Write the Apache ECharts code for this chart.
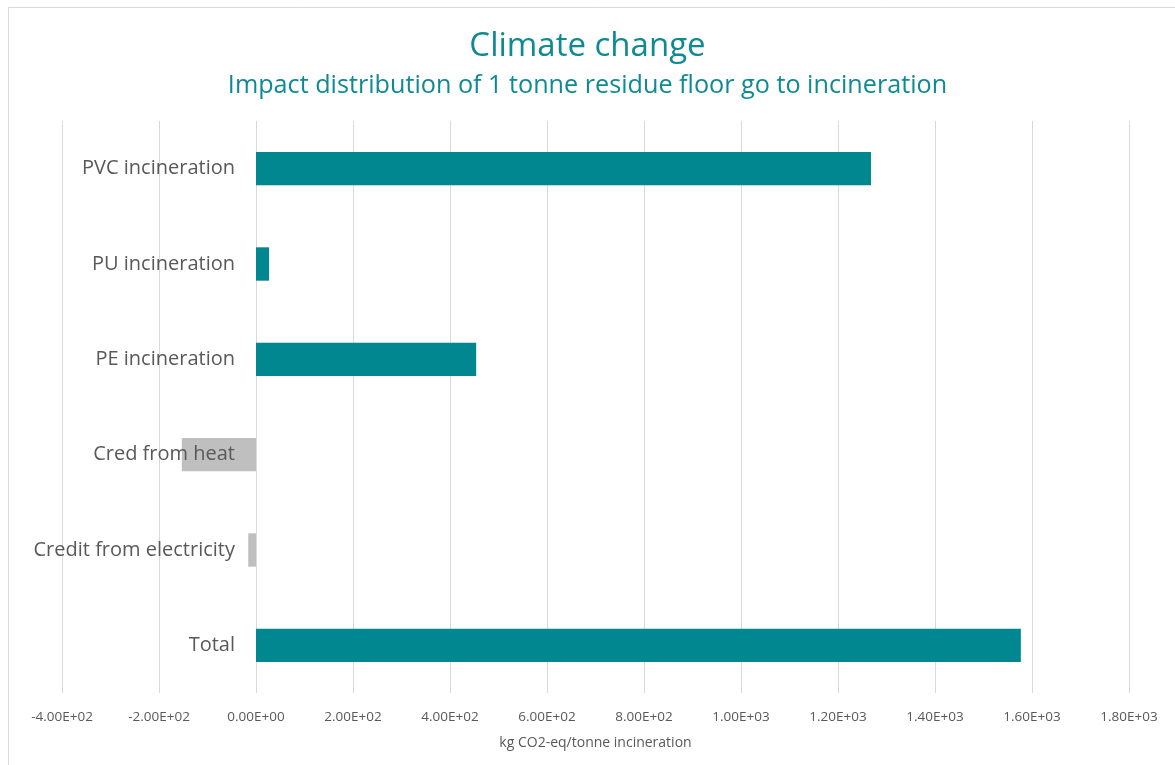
<!DOCTYPE html>
<html><head><meta charset="utf-8">
<script src="https://cdn.jsdelivr.net/npm/echarts@6/dist/echarts.min.js"></script>
<style>html,body{margin:0;padding:0;background:#fff}#c{width:1175px;height:765px}</style>
</head><body><div id="c"></div>
<script>
const categories = ['Total','Credit from electricity','Cred from heat','PE incineration','PU incineration','PVC incineration'];
const values = [1577, -16, -153, 454, 27, 1268];
const tickMin = -400, tickMax = 1800, tickStep = 200;

const TEAL = '#00878f', GREY = '#bfbfbf';
function fmt(v){
  if (v === 0) return '0.00E+00';
  const s = v.toExponential(2).toUpperCase();
  return s.replace(/E([+-])(\d)$/, 'E$10$2');
}
const chart = echarts.init(document.getElementById('c'), null, {renderer:'canvas'});
chart.setOption({
  animation:false,
  backgroundColor:'#fff',
  graphic:[{type:'rect',shape:{x:8.5,y:7.5,width:1200,height:800},style:{fill:'none',stroke:'#d9d9d9',lineWidth:1},silent:true}],
  title:[
    {text:'Climate change',left:'center',top:25,textStyle:{fontFamily:'Open Sans',fontSize:33,fontWeight:'normal',color:'#0f8a93'}},
    {text:'Impact distribution of 1 tonne residue floor go to incineration',left:'center',top:68,textStyle:{fontFamily:'Open Sans',fontSize:25.2,fontWeight:'normal',color:'#0f8a93'}}
  ],
  grid:{left:62,right:46,top:121,bottom:72,containLabel:false,outerBoundsMode:'none'},
  xAxis:{type:'value',min:tickMin,max:tickMax,interval:tickStep,
    name:'kg CO2-eq/tonne incineration',nameLocation:'middle',nameGap:43,
    nameTextStyle:{fontFamily:'Open Sans',fontSize:14,color:'#595959'},
    axisLine:{show:false},axisTick:{show:false},
    axisLabel:{formatter:fmt,fontFamily:'Open Sans',fontSize:13.5,color:'#595959',margin:17},
    splitLine:{lineStyle:{color:'#d9d9d9',width:1}}},
  yAxis:{type:'category',data:categories,offset:-194,z:5,
    axisLine:{show:false,onZero:false},axisTick:{show:false},
    axisLabel:{fontFamily:'Open Sans',fontSize:20,color:'#595959',margin:21}},
  series:[{type:'bar',barWidth:'35%',z:2,
    data:values.map(v=>({value:v,itemStyle:{color:v<0?GREY:TEAL}}))}]
});
</script></body></html>
